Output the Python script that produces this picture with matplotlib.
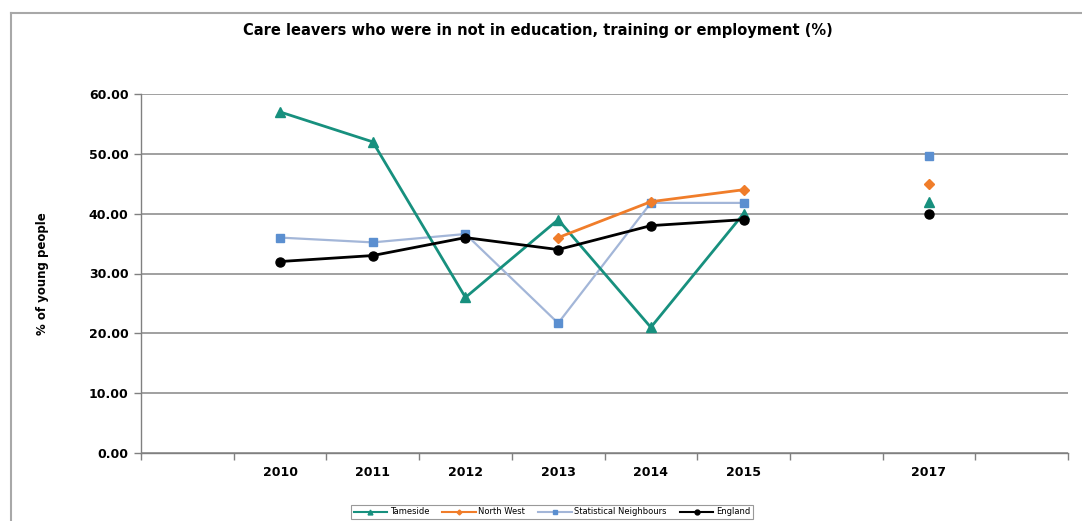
import numpy as np
import matplotlib
matplotlib.use("Agg")
import matplotlib.pyplot as plt
from matplotlib.lines import Line2D

# Category slots along the x axis (empty slots keep the spacing)
years = ["", "2010", "2011", "2012", "2013", "2014", "2015", "", "2017", ""]

nan = np.nan
tameside = [nan, 57.0, 52.0, 26.0, 39.0, 21.0, 40.0, nan, 42.0, nan]
north_west = [nan, nan, nan, nan, 36.0, 42.0, 44.0, nan, 45.0, nan]
stat_neighbours = [nan, 36.0, 35.2, 36.6, 21.7, 41.8, 41.8, nan, 49.6, nan]
england = [nan, 32.0, 33.0, 36.0, 34.0, 38.0, 39.0, nan, 40.0, nan]

series_names = ["Tameside", "North West", "Statistical Neighbours", "England"]

plt.rcParams["font.family"] = ["DejaVu Sans"]

fig = plt.figure(figsize=(10.82, 5.21), dpi=100)
ax = fig.add_axes([141 / 1082, 1 - 453 / 521, (1068 - 141) / 1082, (453 - 94) / 521])

x = np.arange(len(years))

ax.plot(x, stat_neighbours, color="#a3b6d8", lw=1.6, marker="s", ms=6,
        mfc="#5b8fd0", mec="#5b8fd0", zorder=3, label=series_names[2])
ax.plot(x, tameside, color="#17907e", lw=2.0, marker="^", ms=6.5,
        mfc="#17907e", mec="#17907e", zorder=4, label=series_names[0])
ax.plot(x, north_west, color="#f07d2a", lw=2.0, marker="D", ms=5,
        mfc="#f07d2a", mec="#f07d2a", zorder=4, label=series_names[1])
ax.plot(x, england, color="#000000", lw=2.0, marker="o", ms=6.5,
        mfc="#000000", mec="#000000", zorder=5, label=series_names[3])

ax.set_xlim(-0.5, len(years) - 0.5)
ax.set_ylim(0, 60)

# y axis
ax.set_yticks(np.arange(0, 61, 10))
ax.set_yticklabels([f"{v:.2f}" for v in np.arange(0, 61, 10)],
                   fontsize=9, fontweight="bold")
ax.yaxis.grid(True, color="#a0a0a0", lw=1.4)
ax.set_axisbelow(True)

# x axis: tick marks between categories, labels centred on categories
ax.set_xticks(np.arange(-0.5, len(years), 1.0), minor=True)
ax.set_xticks(x)
ax.set_xticklabels(years, fontsize=9, fontweight="bold")
ax.tick_params(axis="x", which="major", length=0, pad=9)
ax.tick_params(axis="x", which="minor", length=5, color="#808080", width=1)
ax.tick_params(axis="y", length=5, color="#808080", width=1, pad=4)

for side in ("top", "right"):
    ax.spines[side].set_visible(False)
for side in ("left", "bottom"):
    ax.spines[side].set_color("#808080")
    ax.spines[side].set_linewidth(1.0)

ax.set_ylabel("% of young people", fontsize=8.5, fontweight="bold")
ax.yaxis.set_label_coords(-0.0995, 0.5)

fig.text(0.497, 1 - 30 / 521, "Care leavers who were in not in education, training or employment (%)",
         ha="center", va="center", fontsize=10.5, fontweight="bold")

# legend at the bottom
handles = [
    Line2D([], [], color="#17907e", lw=1.5, marker="^", ms=3.5),
    Line2D([], [], color="#f07d2a", lw=1.5, marker="D", ms=2.5),
    Line2D([], [], color="#a3b6d8", lw=1.5, marker="s", ms=3,
           mfc="#5b8fd0", mec="#5b8fd0"),
    Line2D([], [], color="#000000", lw=1.5, marker="o", ms=3.5),
]
leg = fig.legend(handles, series_names, loc="center", ncol=4,
                 bbox_to_anchor=(552 / 1082, 1 - 512 / 521),
                 fontsize=6, frameon=True, fancybox=False, edgecolor="#808080",
                 handlelength=4.0, columnspacing=1.6, handletextpad=0.3,
                 borderpad=0.35)
leg.get_frame().set_linewidth(0.8)

# outer chart frame (top and left edges)
fig.add_artist(Line2D([11 / 1082, 11 / 1082], [0, 1 - 13 / 521],
                      transform=fig.transFigure, color="#a8a8a8", lw=1.5))
fig.add_artist(Line2D([11 / 1082, 1], [1 - 13 / 521, 1 - 13 / 521],
                      transform=fig.transFigure, color="#a8a8a8", lw=1.5))

fig.savefig("out.png", dpi=100)
